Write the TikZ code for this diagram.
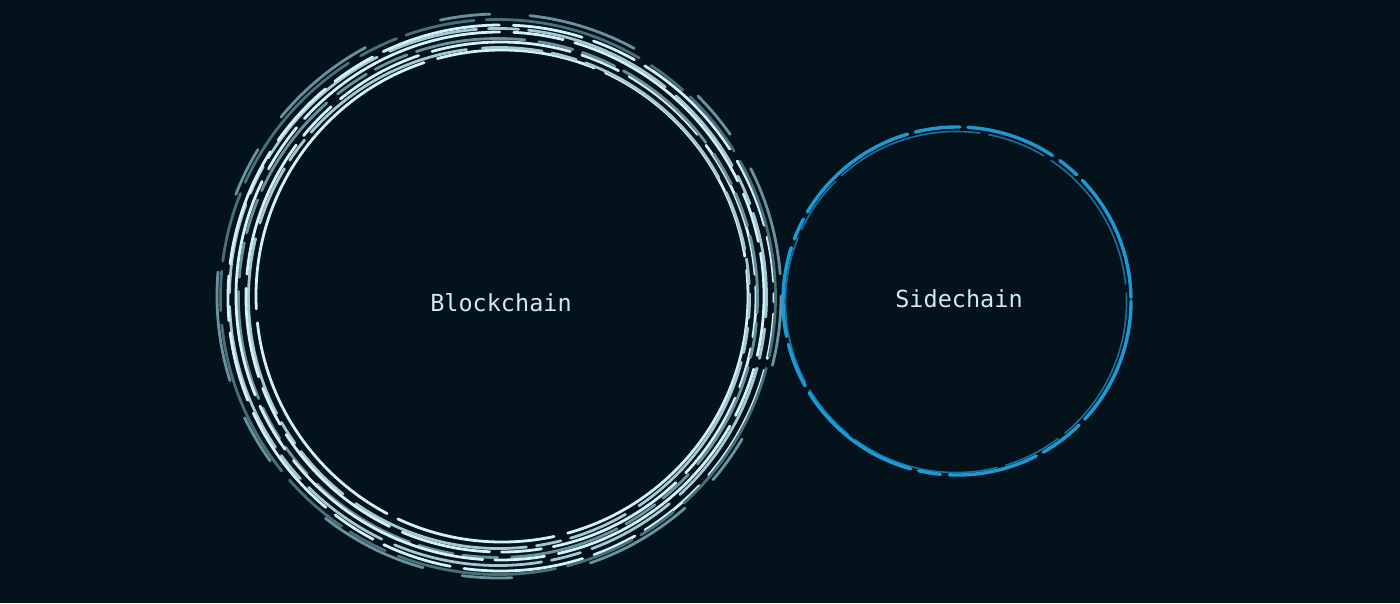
\documentclass[tikz,border=0pt]{standalone}
\usepackage{fontspec}
\newfontfamily\labelfont{DejaVu Sans Mono}
\definecolor{bg}{HTML}{03121B}
\definecolor{ringA}{HTML}{D2F2F8}
\definecolor{ringB}{HTML}{A4C9D1}
\definecolor{ringC}{HTML}{6A929C}
\definecolor{ringD}{HTML}{47707B}
\definecolor{blueA}{HTML}{1C9AD6}
\definecolor{blueB}{HTML}{166F9C}
\definecolor{txt}{HTML}{D0EAF1}
\newcommand{\bigring}[6]{%
  \draw[ring, draw=#4, dash pattern=#5, dash phase=#6] (500+#2,297+#3) circle[radius=#1];}
\begin{document}
\begin{tikzpicture}[x=1pt,y=-1pt,
  ring/.style={line width=2.8pt, line cap=round},
  chainlabel/.style={font=\labelfont\fontsize{23.5}{28}\selectfont, text=txt, inner sep=0pt}]
\fill[bg] (0,0) rectangle (1400,603);
\useasboundingbox (0,0) rectangle (1400,603);
% big ring of dashed circles
\bigring{246}{2}{-1}{ringA}{on 320pt off 14pt on 160pt off 12pt on 240pt off 14pt}{0pt}
\bigring{250.5}{-1}{1}{ringB}{on 60pt off 10pt on 25pt off 10pt on 180pt off 16pt}{40pt}
\bigring{255}{1}{0}{ringA}{on 140pt off 12pt on 40pt off 12pt on 90pt off 14pt}{100pt}
\bigring{259.5}{-2}{1}{ringC}{on 35pt off 10pt on 35pt off 10pt on 110pt off 14pt}{20pt}
\bigring{264}{0}{-1}{ringA}{on 220pt off 14pt on 50pt off 12pt}{160pt}
\bigring{268.5}{-2}{0}{ringB}{on 90pt off 12pt on 30pt off 10pt on 150pt off 14pt}{70pt}
\bigring{273}{1}{1}{ringA}{on 120pt off 14pt on 70pt off 12pt on 45pt off 12pt}{200pt}
\bigring{277.5}{-2}{0}{ringD}{on 70pt off 12pt on 160pt off 14pt on 40pt off 10pt}{10pt}
\bigring{282}{-1}{-1}{ringC}{on 50pt off 40pt on 110pt off 80pt}{130pt}
% blue ring
\draw[blueB, line width=1.6pt, dash pattern=on 150pt off 8pt on 60pt off 8pt] (956,302) circle[radius=170.5];
\draw[blueA, line width=3.4pt, line cap=round, dash pattern=on 130pt off 8pt on 45pt off 8pt on 90pt off 9pt on 22pt off 8pt] (957,301) circle[radius=174];
% labels
\node[chainlabel] (bc) at (501,303) {Blockchain};
\node[chainlabel] (sc) at (959,299) {Sidechain};
\end{tikzpicture}
\end{document}
